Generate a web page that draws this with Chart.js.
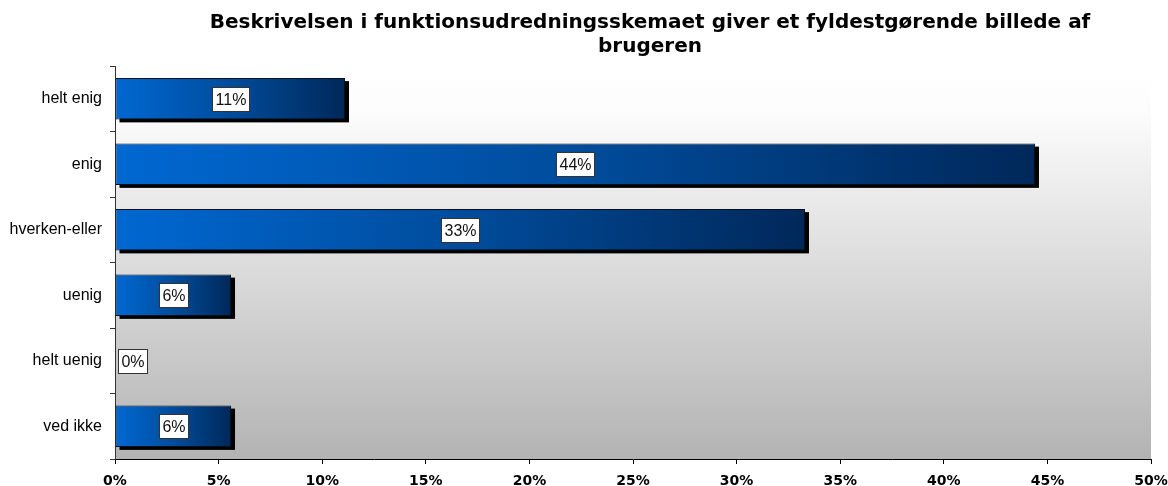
<!DOCTYPE html>
<html>
<head>
<meta charset="utf-8">
<title>Funktionsudredningsskema</title>
<script src="https://cdn.jsdelivr.net/npm/chart.js@4/dist/chart.umd.min.js"></script>
<style>
  html, body { margin: 0; padding: 0; background: #ffffff; }
  #wrap { width: 1168px; height: 486px; position: relative; }
</style>
</head>
<body>
<div id="wrap"><canvas id="chart"></canvas></div>
<script>
// Answers in percent (18 respondents)
const categories = ['helt enig', 'enig', 'hverken-eller', 'uenig', 'helt uenig', 'ved ikke'];
const shares = [11.1, 44.4, 33.3, 5.6, 0, 5.6];
const titleLines = ['Beskrivelsen i funktionsudredningsskemaet giver et fyldestgørende billede af', 'brugeren'];
const axisMax = 50;
const axisStep = 5;

// plot area background: white at the top fading to grey
const plotBackground = {
    id: 'plotBackground',
    beforeDraw(chart) {
        const { ctx, chartArea: a } = chart;
        const g = ctx.createLinearGradient(0, a.top, 0, a.bottom);
        g.addColorStop(0, '#ffffff');
        g.addColorStop(0.12, '#fcfcfc');
        g.addColorStop(1, '#b3b3b3');
        ctx.save();
        ctx.fillStyle = g;
        ctx.fillRect(a.left, a.top, a.right - a.left, a.bottom - a.top);
        ctx.restore();
    }
};

// hard black drop shadow behind each bar
const barShadow = {
    id: 'barShadow',
    beforeDatasetsDraw(chart) {
        const ctx = chart.ctx;
        const meta = chart.getDatasetMeta(0);
        ctx.save();
        ctx.fillStyle = '#000000';
        meta.data.forEach((bar) => {
            const { x, y, base, height } = bar.getProps(['x', 'y', 'base', 'height'], true);
            if (x - base < 1) return;
            ctx.fillRect(base + 4, y - height / 2 + 3, x - base, height);
        });
        ctx.restore();
    }
};

// boxed percent labels in the middle of each bar
const boxLabels = {
    id: 'boxLabels',
    afterDatasetsDraw(chart) {
        const ctx = chart.ctx;
        const meta = chart.getDatasetMeta(0);
        const left = chart.chartArea.left;
        ctx.save();
        ctx.font = '16px "Liberation Sans", Arial, sans-serif';
        ctx.textAlign = 'center';
        ctx.textBaseline = 'middle';
        meta.data.forEach((bar, i) => {
            const text = Math.round(shares[i]) + '%';
            const w = Math.round(ctx.measureText(text).width) + 6;
            const h = 24;
            let cx = (bar.x + bar.base) / 2;
            if (cx - w / 2 < left + 3) cx = left + 3 + w / 2;
            const bx = Math.round(cx - w / 2) + 0.5;
            const by = Math.round(bar.y - h / 2) + 0.5;
            ctx.fillStyle = '#ffffff';
            ctx.fillRect(bx, by, w, h);
            ctx.strokeStyle = '#333333';
            ctx.lineWidth = 1;
            ctx.strokeRect(bx, by, w, h);
            ctx.fillStyle = '#111111';
            ctx.fillText(text, bx + w / 2, by + h / 2 + 1);
        });
        ctx.restore();
    }
};

// two line bold heading above the plot
const heading = {
    id: 'heading',
    afterDraw(chart) {
        const ctx = chart.ctx;
        ctx.save();
        ctx.font = 'bold 20px "DejaVu Sans", Verdana, sans-serif';
        ctx.fillStyle = '#000000';
        ctx.textAlign = 'center';
        ctx.textBaseline = 'alphabetic';
        titleLines.forEach((line, i) => ctx.fillText(line, 650, 28 + i * 24));
        ctx.restore();
    }
};

function barGradient(context) {
    const chart = context.chart;
    const x = chart.scales.x;
    if (!chart.chartArea || !x) return '#0066cc';
    const x0 = x.getPixelForValue(0);
    const x1 = x.getPixelForValue(context.raw);
    if (x1 - x0 < 1) return '#0066cc';
    const g = chart.ctx.createLinearGradient(x0, 0, x1, 0);
    g.addColorStop(0, '#0068d2');
    g.addColorStop(0.5, '#004c9c');
    g.addColorStop(1, '#00285a');
    return g;
}

new Chart(document.getElementById('chart'), {
    type: 'bar',
    data: {
        labels: categories,
        datasets: [{
            data: shares,
            backgroundColor: barGradient,
            borderColor: '#03101f',
            borderWidth: 1,
            borderSkipped: false,
            categoryPercentage: 1,
            barPercentage: 0.63
        }]
    },
    options: {
        indexAxis: 'y',
        responsive: true,
        maintainAspectRatio: false,
        animation: false,
        layout: { padding: { top: 66, right: 17, left: 0, bottom: 0 } },
        plugins: {
            legend: { display: false },
            title: { display: false },
            tooltip: { enabled: false }
        },
        scales: {
            x: {
                min: 0,
                max: axisMax,
                afterFit: (scale) => {
                    scale.height = 27;
                    scale.paddingLeft = 0;
                    scale.paddingRight = 0;
                },
                border: { display: true, color: '#000000', width: 1 },
                grid: { drawOnChartArea: false, tickLength: 5, color: '#000000' },
                ticks: {
                    stepSize: axisStep,
                    padding: 9,
                    color: '#000000',
                    font: { family: '"DejaVu Sans", Verdana, sans-serif', weight: 'bold', size: 14 },
                    callback: (v) => v + '%'
                }
            },
            y: {
                afterFit: (scale) => {
                    scale.width = 115;
                    scale.paddingTop = 0;
                    scale.paddingBottom = 0;
                },
                border: { display: true, color: '#333333', width: 1 },
                grid: { drawOnChartArea: false, tickLength: 5, color: '#333333', offset: true },
                ticks: {
                    padding: 8,
                    color: '#000000',
                    font: { family: '"Liberation Sans", Arial, sans-serif', size: 16 }
                }
            }
        }
    },
    plugins: [plotBackground, barShadow, boxLabels, heading]
});
</script>
</body>
</html>
